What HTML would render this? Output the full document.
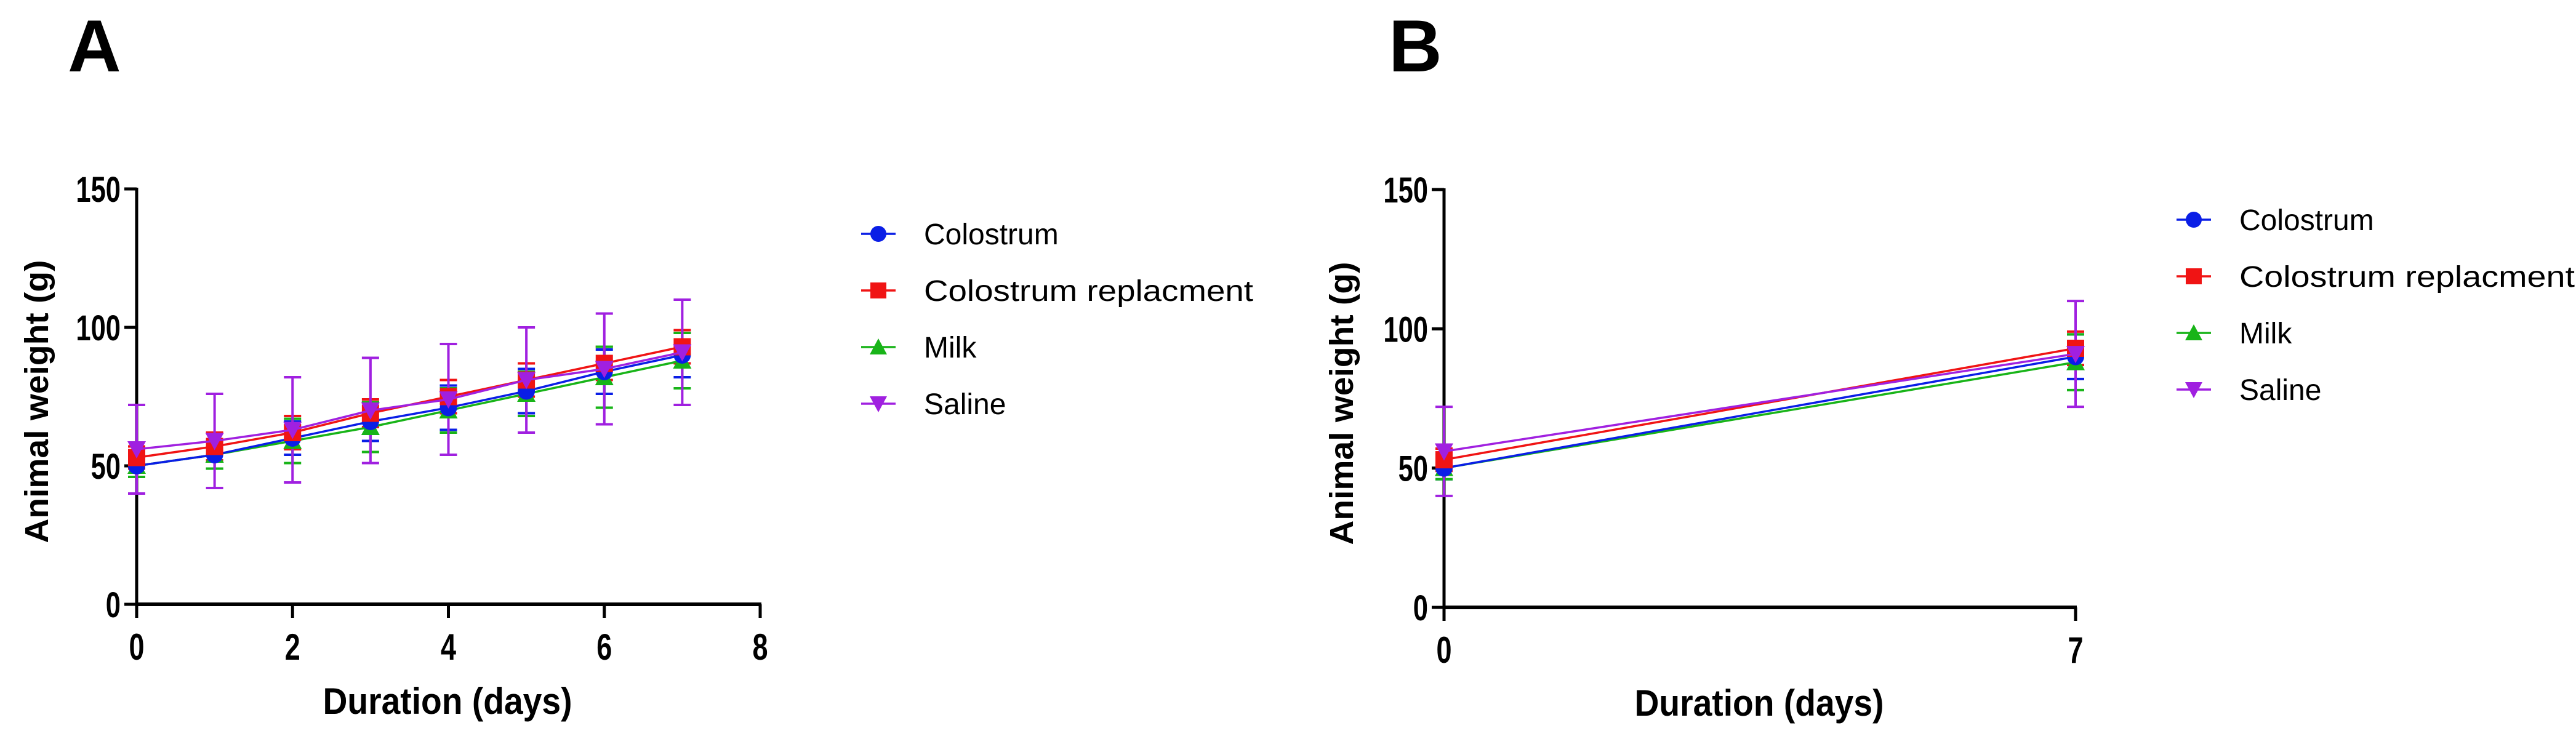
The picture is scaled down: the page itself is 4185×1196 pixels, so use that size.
<!DOCTYPE html>
<html><head><meta charset="utf-8"><style>
html,body{margin:0;padding:0;background:#fff;}
svg{display:block;}
text{font-family:"Liberation Sans",sans-serif;}
</style></head><body>
<svg id="chart" width="4185" height="1196" viewBox="0 0 4185 1196" xmlns="http://www.w3.org/2000/svg"></svg>
<script>
const seriesNames = ["Colostrum","Colostrum replacment","Milk","Saline"];
const seriesColors = ["#0a1ee6","#f01414","#18b418","#a020e0"];
const days = [0,1,2,3,4,5,6,7];
const colostrum = [50,54,60,66,71,77,84,90];
const replacement = [53,57,62,69,75,81,87,93];
const milk = [50,54,59,64,70,76,82,88];
const saline = [56,59,63,70,74,81,85,91];
const colostrumSD = [4,5,6,7,8,8,8,8];
const replacementSD = [4,5,6,5,6,6,6,6];
const milkSD = [4,5,8,9,8,8,11,10];
const salineSD = [16,17,19,19,20,19,20,19];
const yTicks = [0,50,100,150];
const xTicksA = [0,2,4,6,8];
const xTicksB = [0,7];
const daysB = [0,7];

const NS="http://www.w3.org/2000/svg";
const svg=document.getElementById('chart');
function mk(tag,attrs,parent){const e=document.createElementNS(NS,tag);for(const k in attrs)e.setAttribute(k,attrs[k]);(parent||svg).appendChild(e);return e;}
const allVals=[colostrum,replacement,milk,saline];
const allSD=[colostrumSD,replacementSD,milkSD,salineSD];

function panel(cfg){
  const g=mk('g',{});
  
  
  const X=v=>cfg.x0+(v-cfg.xmin)/(cfg.xmax-cfg.xmin)*(cfg.x1-cfg.x0);
  const Y=v=>cfg.y0-(v/150)*(cfg.y0-cfg.y1);
  const lab=mk('text',{x:cfg.labelX,y:116,'font-size':120,'font-weight':'bold'},g);lab.textContent=cfg.id;
  
  const ya=mk('line',{x1:cfg.x0,y1:cfg.y1-2,x2:cfg.x0,y2:cfg.y0+2,stroke:'#000','stroke-width':5},g);
  
  const xa=mk('line',{x1:cfg.x0-2,y1:cfg.y0,x2:cfg.x1+2,y2:cfg.y0,stroke:'#000','stroke-width':6},g);
  
  yTicks.forEach(t=>{
    mk('line',{x1:cfg.x0-20,y1:Y(t),x2:cfg.x0,y2:Y(t),stroke:'#000','stroke-width':5},g);
    const ax=cfg.x0-26;
    const tx=mk('text',{x:ax,y:Y(t)+21,'font-size':58,'font-weight':'bold','text-anchor':'end',transform:`translate(${ax},0) scale(0.75,1) translate(${-ax},0)`},g);
    tx.textContent=t;
  });
  cfg.xticks.forEach(t=>{
    mk('line',{x1:X(t),y1:cfg.y0,x2:X(t),y2:cfg.y0+22,stroke:'#000','stroke-width':5},g);
    const tx=mk('text',{x:X(t),y:cfg.y0+90,'font-size':60,'font-weight':'bold','text-anchor':'middle',transform:`translate(${X(t)},0) scale(0.75,1) translate(${-X(t)},0)`},g);
    tx.textContent=t;
  });
  const yt=mk('text',{x:0,y:0,'font-size':54,'font-weight':'bold','text-anchor':'middle',transform:`translate(${cfg.ytX},${(cfg.y0+cfg.y1)/2+8}) rotate(-90)`,textLength:460,lengthAdjust:'spacingAndGlyphs'},g);
  yt.textContent='Animal weight (g)';
  const xt=mk('text',{x:cfg.xtX,y:cfg.xtY,'font-size':60,'font-weight':'bold','text-anchor':'middle',textLength:405,lengthAdjust:'spacingAndGlyphs'},g);
  xt.textContent='Duration (days)';
  const idx=cfg.xs.map(d=>days.indexOf(d));
  [0,1,2,3].forEach(s=>{
    idx.forEach(i=>{
      const x=X(days[i]),v=allVals[s][i],sd=allSD[s][i],c=seriesColors[s];
      const eb=mk('path',{d:`M${x},${Y(v-sd)}V${Y(v+sd)}M${x-14},${Y(v+sd)}h28M${x-14},${Y(v-sd)}h28`,stroke:c,'stroke-width':4,fill:'none'},g);
      
    });
  });
  [2,0,1,3].forEach(s=>{
    const c=seriesColors[s];
    const pts=idx.map(i=>X(days[i])+','+Y(allVals[s][i])).join(' ');
    const pl=mk('polyline',{points:pts,fill:'none',stroke:c,'stroke-width':3.5},g);
    
    idx.forEach(i=>{
      const m=marker(g,s,X(days[i]),Y(allVals[s][i]),14);
      
    });
  });
  seriesNames.forEach((n,s)=>{
    const lg=mk('g',{},g);
    
    const yy=cfg.legY+s*92;
    mk('line',{x1:cfg.legX-28,y1:yy,x2:cfg.legX+28,y2:yy,stroke:seriesColors[s],'stroke-width':3.5},lg);
    marker(lg,s,cfg.legX,yy,13);
    const t=mk('text',{x:cfg.legX+74,y:yy+17,'font-size':48},lg);
    t.textContent=n;
    if(s===1){t.setAttribute('textLength',cfg.legLen);t.setAttribute('lengthAdjust','spacingAndGlyphs');}
  });
}
function marker(g,s,x,y,r){
  const c=seriesColors[s];
  if(s===0)return mk('circle',{cx:x,cy:y,r:r,fill:c},g);
  if(s===1)return mk('rect',{x:x-r,y:y-r,width:2*r,height:2*r,fill:c},g);
  if(s===2)return mk('path',{d:`M${x},${y-r-1}L${x+r+1},${y+r-1}L${x-r-1},${y+r-1}Z`,fill:c},g);
  return mk('path',{d:`M${x-r-1},${y-r+1}L${x+r+1},${y-r+1}L${x},${y+r+1}Z`,fill:c},g);
}
panel({id:'A',labelX:110,x0:222,x1:1235,xmin:0,xmax:8,y0:982,y1:307,xticks:xTicksA,xs:days,ytX:78,xtX:727,xtY:1160,legX:1427,legY:380,legLen:535});
panel({id:'B',labelX:2256,x0:2346,x1:3372,xmin:0,xmax:7,y0:987,y1:308,xticks:xTicksB,xs:daysB,ytX:2198,xtX:2858,xtY:1163,legX:3564,legY:357,legLen:545});
</script>
</body></html>
